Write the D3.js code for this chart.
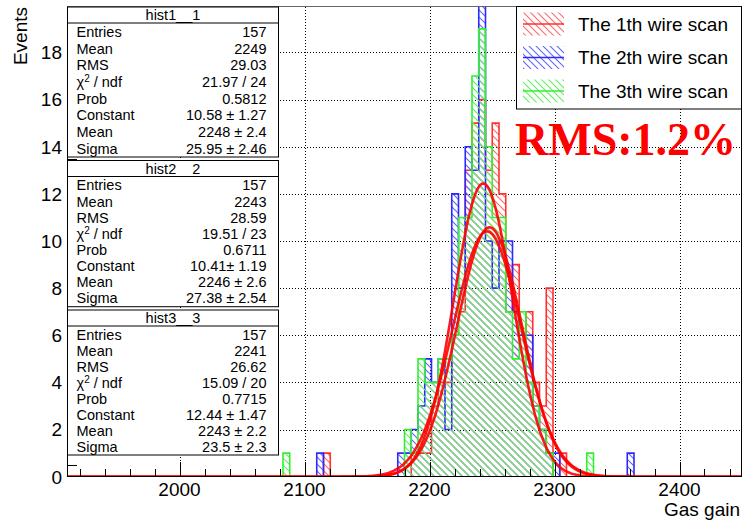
<!DOCTYPE html>
<html>
<head>
<meta charset="utf-8">
<script src="https://cdn.jsdelivr.net/npm/d3@7"></script>
<style>
  body { margin: 0; background: #fff; }
  svg { display: block; font-family: "Liberation Sans", Arimo, Helvetica, Arial, sans-serif; }
</style>
</head>
<body>
<svg id="chart" width="742" height="520"></svg>
<script>
// ---- histogram binning (100 bins over the gas-gain range) ----
const binStart = 1910;
const binWidth = 5.4;

// ---- counts per bin, one array per wire scan ----
const scan1Counts = [
  0,0,0,0,0,0,0,0,0,0,0,0,0,0,0,0,0,0,0,0,
  0,0,0,0,0,0,0,0,0,0,0,0,0,0,0,0,0,0,1,0,
  0,0,0,0,0,0,0,0,0,0,0,1,1,1,3,4,4,6,7,13,
  15,16,13,15,12,7,9,6,7,4,3,8,0,1,0,0,0,0,0,0,
  0,0,0,0,0,0,0,0,0,0,0,0,0,0,0,0,0,0,0,0
];
const scan2Counts = [
  0,0,0,0,0,0,0,0,0,0,0,0,0,0,0,0,0,0,0,0,
  0,0,0,0,0,0,0,0,0,0,0,0,0,0,0,0,0,1,0,0,
  0,0,0,0,0,0,0,0,0,1,1,2,3,5,4,5,2,12,8,14,
  13,21,10,8,10,10,7,6,6,3,2,1,1,0,0,0,0,0,0,0,
  0,0,0,1,0,0,0,0,0,0,0,0,0,0,0,0,0,0,0,0
];
const scan3Counts = [
  0,0,0,0,0,0,0,0,0,0,0,0,0,0,0,0,0,0,0,0,
  0,0,0,0,0,0,0,0,0,0,0,0,1,0,0,0,0,0,0,0,
  0,0,0,0,0,0,0,0,0,0,2,1,5,4,4,5,5,6,11,11,
  17,19,14,11,11,7,5,7,4,3,2,1,0,0,0,0,0,1,0,0,
  0,0,0,0,0,0,0,0,0,0,0,0,0,0,0,0,0,0,0,0
];

// ---- Gaussian fit results ----
const fitConstant = [10.58, 10.41, 12.44];
const fitMean     = [2248, 2246, 2243];
const fitSigma    = [25.95, 27.38, 23.5];

// ---- statistics boxes ----
const statTitles = ["hist1__1", "hist2__2", "hist3__3"];
const statLabels = ["Entries", "Mean", "RMS", "CHI", "Prob", "Constant", "Mean", "Sigma"];
const statValues = [
  ["157", "2249", "29.03", "21.97 / 24", "0.5812", "10.58 \u00b1 1.27", "2248 \u00b1 2.4", "25.95 \u00b1 2.46"],
  ["157", "2243", "28.59", "19.51 / 23", "0.6711", "10.41\u00b1 1.19", "2246 \u00b1 2.6", "27.38 \u00b1 2.54"],
  ["157", "2241", "26.62", "15.09 / 20", "0.7715", "12.44 \u00b1 1.47", "2243 \u00b1 2.2", "23.5 \u00b1 2.3"]
];

// ---- legend and axes ----
const legendLabels = ["The 1th wire scan", "The 2th wire scan", "The 3th wire scan"];
const xTickValues = [2000, 2100, 2200, 2300, 2400];
const yTickValues = [0, 2, 4, 6, 8, 10, 12, 14, 16, 18];
const xDomain = [1910, 2450];
const yDomain = [0, 19.95];

// ---- drawing ----
const svg = d3.select("#chart");
const W = 742, H = 520;
const plot = { left: 67, right: 742, top: 6.5, bottom: 476.7 };

const x = d3.scaleLinear().domain(xDomain).range([plot.left, plot.right]);
const y = d3.scaleLinear().domain(yDomain).range([plot.bottom, plot.top]);

svg.append("rect").attr("width", W).attr("height", H).attr("fill", "#fff");

const styles = [
  { line: "#ff3030", hatch: "#ff6a6a", id: "hatchRed" },
  { line: "#2a2aff", hatch: "#6464ff", id: "hatchBlue" },
  { line: "#30f030", hatch: "#5ef05e", id: "hatchGreen" }
];

// hatch patterns (\\\ direction)
const defs = svg.append("defs");
styles.forEach(s => {
  const p = defs.append("pattern")
    .attr("id", s.id).attr("patternUnits", "userSpaceOnUse")
    .attr("width", 7).attr("height", 7);
  p.append("path")
    .attr("d", "M-1,-1 L8,8 M-1,6 L1,8 M6,-1 L8,1")
    .attr("stroke", s.hatch).attr("stroke-width", 1.1).attr("fill", "none");
});
defs.append("clipPath").attr("id", "plotClip")
  .append("rect")
  .attr("x", plot.left).attr("y", plot.top)
  .attr("width", plot.right - plot.left).attr("height", plot.bottom - plot.top);

// grid
const grid = svg.append("g").attr("stroke", "#000").attr("stroke-width", 1)
  .attr("stroke-dasharray", "1,2").attr("shape-rendering", "crispEdges");
xTickValues.forEach(v => {
  grid.append("line").attr("x1", Math.round(x(v)) + 0.5).attr("x2", Math.round(x(v)) + 0.5)
    .attr("y1", plot.top).attr("y2", plot.bottom);
});
yTickValues.filter(v => v > 0).forEach(v => {
  grid.append("line").attr("y1", Math.round(y(v)) + 0.5).attr("y2", Math.round(y(v)) + 0.5)
    .attr("x1", plot.left).attr("x2", plot.right);
});

// histograms
const histLayer = svg.append("g").attr("clip-path", "url(#plotClip)");
function histPath(counts) {
  let d = `M${x(binStart)},${y(0)}`;
  counts.forEach((c, i) => {
    const lo = binStart + i * binWidth, hi = lo + binWidth;
    d += ` L${x(lo)},${y(c)} L${x(hi)},${y(c)}`;
  });
  d += ` L${x(binStart + counts.length * binWidth)},${y(0)} Z`;
  return d;
}
[scan1Counts, scan2Counts, scan3Counts].forEach((counts, i) => {
  histLayer.append("path")
    .attr("d", histPath(counts))
    .attr("fill", `url(#${styles[i].id})`)
    .attr("stroke", styles[i].line)
    .attr("stroke-width", 1.6);
});

// Gaussian fits
const gx = d3.range(xDomain[0], xDomain[1] + 0.01, 1);
const fitLine = d3.line().x(d => x(d[0])).y(d => y(d[1]));
fitConstant.forEach((c, i) => {
  const pts = gx.map(v => [v, c * Math.exp(-0.5 * Math.pow((v - fitMean[i]) / fitSigma[i], 2))]);
  histLayer.append("path").attr("d", fitLine(pts))
    .attr("fill", "none").attr("stroke", "#ff0000").attr("stroke-width", 2.6)
    .attr("stroke-opacity", 0.9);
});

// axes
const ax = svg.append("g").attr("stroke", "#000").attr("stroke-width", 1).attr("shape-rendering", "crispEdges");
ax.append("line").attr("x1", plot.left).attr("x2", plot.right).attr("y1", plot.bottom).attr("y2", plot.bottom);
ax.append("line").attr("x1", plot.left + 0.5).attr("x2", plot.left + 0.5).attr("y1", plot.top).attr("y2", plot.bottom);
ax.append("line").attr("x1", plot.left).attr("x2", plot.right).attr("y1", plot.top).attr("y2", plot.top).attr("stroke", "#666");
ax.append("line").attr("x1", plot.right - 0.5).attr("x2", plot.right - 0.5).attr("y1", plot.top).attr("y2", plot.bottom);

// x ticks: major every 100, minor every 20
d3.range(1920, 2450, 20).forEach(v => {
  const major = v % 100 === 0;
  ax.append("line").attr("x1", Math.round(x(v)) + 0.5).attr("x2", Math.round(x(v)) + 0.5)
    .attr("y1", plot.bottom).attr("y2", plot.bottom - (major ? 15 : 8));
});
// y ticks: major every 2, minor every 0.5
d3.range(0.5, 19.95, 0.5).forEach(v => {
  const major = Math.abs(v % 2) < 1e-6;
  ax.append("line").attr("y1", Math.round(y(v)) + 0.5).attr("y2", Math.round(y(v)) + 0.5)
    .attr("x1", plot.left).attr("x2", plot.left + (major ? 20 : 10));
});

// tick labels
const lab = svg.append("g").attr("font-size", 19).attr("fill", "#000");
xTickValues.forEach(v => {
  lab.append("text").attr("x", x(v)).attr("y", 496).attr("text-anchor", "middle").text(v);
});
yTickValues.forEach(v => {
  lab.append("text").attr("x", 62).attr("y", y(v) + 6.8).attr("text-anchor", "end").text(v);
});

// axis titles
svg.append("text").attr("transform", "translate(27,7) rotate(-90)")
  .attr("text-anchor", "end").attr("font-size", 19).text("Events");
svg.append("text").attr("x", 740).attr("y", 516)
  .attr("text-anchor", "end").attr("font-size", 19).text("Gas gain");

// statistics boxes
const boxTop = [7, 160.5, 310], boxBottom = [157, 306.7, 455];
const boxL = 67.5, boxR = 278.5, titleH = 16;
statTitles.forEach((t, b) => {
  const g = svg.append("g");
  g.append("rect").attr("x", boxL).attr("y", boxTop[b]).attr("width", boxR - boxL)
    .attr("height", boxBottom[b] - boxTop[b]).attr("fill", "#fff").attr("stroke", "#000");
  g.append("line").attr("x1", boxL).attr("x2", boxR)
    .attr("y1", boxTop[b] + titleH).attr("y2", boxTop[b] + titleH).attr("stroke", "#000");
  g.append("text").attr("x", (boxL + boxR) / 2).attr("y", boxTop[b] + titleH / 2 + 5)
    .attr("text-anchor", "middle").attr("font-size", 14.5).text(t);
  const first = boxTop[b] + titleH + 8.7, last = boxBottom[b] - 8.7;
  const step = (last - first) / (statLabels.length - 1);
  statLabels.forEach((l, r) => {
    const yy = first + r * step + 5.2;
    const tl = g.append("text").attr("x", 76.5).attr("y", yy).attr("font-size", 14.5);
    if (l === "CHI") {
      tl.append("tspan").text("\u03c7");
      tl.append("tspan").attr("dy", -5).attr("font-size", 10).text("2");
      tl.append("tspan").attr("dy", 5).text(" / ndf");
    } else {
      tl.text(l);
    }
    g.append("text").attr("x", 266.5).attr("y", yy).attr("text-anchor", "end")
      .attr("font-size", 14.5).text(statValues[b][r]);
  });
});

// legend
const lg = svg.append("g");
lg.append("rect").attr("x", 516.5).attr("y", 6.5).attr("width", 225).attr("height", 102.5)
  .attr("fill", "#fff").attr("stroke", "#000");
const rowY = [24, 57.5, 91];
legendLabels.forEach((t, i) => {
  lg.append("rect").attr("x", 523).attr("y", rowY[i] - 11.5).attr("width", 41).attr("height", 23)
    .attr("fill", `url(#${styles[i].id})`);
  lg.append("line").attr("x1", 523).attr("x2", 564).attr("y1", rowY[i]).attr("y2", rowY[i])
    .attr("stroke", styles[i].line).attr("stroke-width", 1.6);
  lg.append("text").attr("x", 578).attr("y", rowY[i] + 6.8).attr("font-size", 19).text(t);
});

// RMS annotation
svg.append("text").attr("x", 515).attr("y", 155)
  .attr("font-family", "'Liberation Serif', 'Times New Roman', serif")
  .attr("font-weight", "bold").attr("font-size", 46).attr("fill", "#ff0000")
  .text("RMS:1.2%");
</script>
</body>
</html>
